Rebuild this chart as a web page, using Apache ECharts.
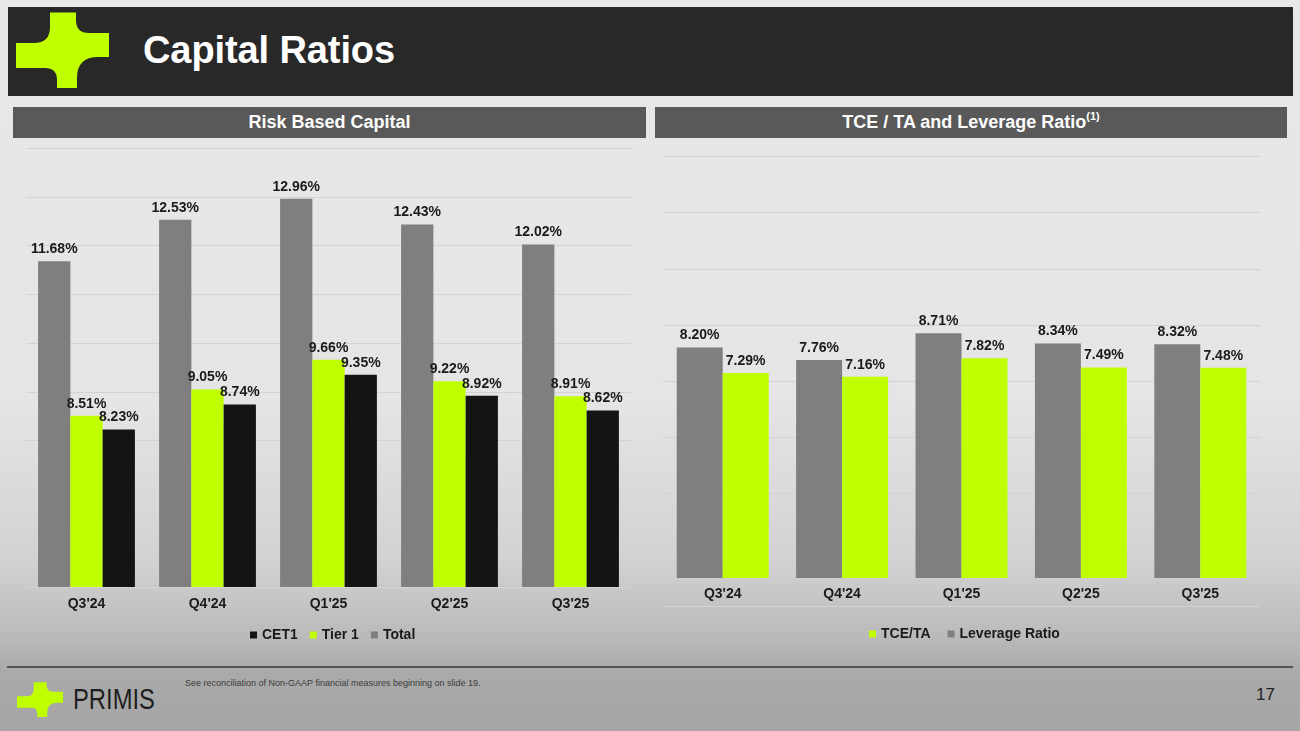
<!DOCTYPE html>
<html>
<head>
<meta charset="utf-8">
<script src="https://cdn.jsdelivr.net/npm/echarts@6/dist/echarts.min.js"></script>
<style>
  html, body { margin:0; padding:0; }
  body { width:1300px; height:731px; position:relative; overflow:hidden;
    font-family:"Liberation Sans", Arial, sans-serif;
    background: linear-gradient(to bottom, #e8e8e8 0px, #e5e5e5 400px, #d2d2d2 560px, #b9b9b9 640px, #aaaaaa 670px, #a5a5a5 731px); }
  .abs { position:absolute; }
  #header { left:8px; top:7px; width:1285px; height:89px; background:#282828; }
  #title { left:143px; top:30px; font-size:38px; font-weight:bold; color:#fff; line-height:40px; white-space:nowrap; letter-spacing:-0.1px; }
  .panel { top:107px; height:31px; background:#595959; color:#fff; font-weight:bold; font-size:18px; line-height:31px; text-align:center; white-space:nowrap; }
  .panel sup { font-size:11px; vertical-align:top; position:relative; top:-6px; }
  #footline { left:7px; top:666px; width:1286px; height:2px; background:#555; }
  #primis { left:73px; top:684px; font-size:29px; color:#1e1e1e; line-height:30px; transform:scaleX(0.82); transform-origin:left top; white-space:nowrap; }
  #note { left:185px; top:677px; font-size:9px; color:#3a3a3a; line-height:12px; white-space:nowrap; }
  #page { left:1256px; top:685px; font-size:17px; color:#222; line-height:20px; }
  #chart { left:0; top:0; width:1300px; height:731px; }
</style>
</head>
<body>
<div id="header" class="abs"></div>
<svg class="abs" style="left:16px;top:12px" width="93" height="76" viewBox="16 12 93 76">
  <path fill="#bfff00" d="M50,12.5 L76,12.5 L76,20 Q76,33 89,33 L109,33 L109,57 L98,57 Q77,57 77,78 L77,88 L57,88 L57,80 Q57,68 45,68 L16,68 L16,43 L34,43 Q50,43 50,27 Z"/>
</svg>
<div id="title" class="abs">Capital Ratios</div>
<div class="abs panel" style="left:13px;width:633px;">Risk Based Capital</div>
<div class="abs panel" style="left:655px;width:632px;">TCE / TA and Leverage Ratio<sup>(1)</sup></div>
<div id="footline" class="abs"></div>
<svg class="abs" style="left:17px;top:682px" width="46" height="35" viewBox="16 12 93 76" preserveAspectRatio="none">
  <path fill="#bfff00" d="M50,12.5 L76,12.5 L76,20 Q76,33 89,33 L109,33 L109,57 L98,57 Q77,57 77,78 L77,88 L57,88 L57,80 Q57,68 45,68 L16,68 L16,43 L34,43 Q50,43 50,27 Z"/>
</svg>
<div id="primis" class="abs">PRIMIS</div>
<div id="note" class="abs">See reconciliation of Non-GAAP financial measures beginning on slide 19.</div>
<div id="page" class="abs">17</div>
<div id="chart" class="abs"></div>
<script>
// ---- data ----
const quarters = ["Q3'24", "Q4'24", "Q1'25", "Q2'25", "Q3'25"];
const totalCapital = [11.68, 12.53, 12.96, 12.43, 12.02];
const tier1 = [8.51, 9.05, 9.66, 9.22, 8.91];
const cet1 = [8.23, 8.74, 9.35, 8.92, 8.62];
const leverageRatio = [8.20, 7.76, 8.71, 8.34, 8.32];
const tceTa = [7.29, 7.16, 7.82, 7.49, 7.48];
const leftLegend = ['CET1', 'Tier 1', 'Total'];
const rightLegend = ['TCE/TA', 'Leverage Ratio'];

const GRAY = '#7f7f7f', GREEN = '#bfff00', BLACK = '#141414';
const FONT = '"Liberation Sans", Arial, sans-serif';
const lbl = {
  show: true, position: 'top', distance: 5,
  fontFamily: FONT, fontWeight: 'bold', fontSize: 14, color: '#1a1a1a',
  formatter: p => p.value.toFixed(2) + '%'
};
const axisLbl = { fontFamily: FONT, fontWeight: 'bold', fontSize: 14, color: '#1a1a1a' };
const gridLine = { show: true, lineStyle: { color: '#d3d3d3', width: 1 } };

const chart = echarts.init(document.getElementById('chart'), null, { renderer: 'canvas' });
chart.setOption({
  backgroundColor: 'transparent',
  animation: false,
  grid: [
    { left: 26, right: 669, top: 148, bottom: 144 },
    { left: 663, right: 40, top: 156.5, bottom: 125 }
  ],
  xAxis: [
    { type: 'category', gridIndex: 0, data: quarters, position: 'bottom',
      axisLine: { show: false, onZero: false }, axisTick: { show: false },
      axisLabel: Object.assign({ margin: 10 }, axisLbl) },
    { type: 'category', gridIndex: 1, data: quarters, position: 'bottom', offset: -28,
      axisLine: { show: false, onZero: false }, axisTick: { show: false },
      axisLabel: Object.assign({ margin: 9 }, axisLbl) }
  ],
  yAxis: [
    { type: 'value', gridIndex: 0, min: 5, max: 14, interval: 1,
      axisLabel: { show: false }, axisLine: { show: false }, axisTick: { show: false },
      splitLine: gridLine },
    { type: 'value', gridIndex: 1, min: -1, max: 15,
      axisLabel: { show: false }, axisLine: { show: false }, axisTick: { show: false },
      splitLine: { show: false } },
    { type: 'value', gridIndex: 1, min: 0, max: 16, interval: 2,
      axisLabel: { show: false }, axisLine: { show: false }, axisTick: { show: false },
      splitLine: gridLine }
  ],
  legend: [
    { data: leftLegend, left: 245, top: 623, icon: 'rect', itemWidth: 7, itemHeight: 7, itemGap: 12,
      textStyle: { fontFamily: FONT, fontWeight: 'bold', fontSize: 14, color: '#1a1a1a' } },
    { data: rightLegend, left: 864, top: 622, icon: 'rect', itemWidth: 7, itemHeight: 7, itemGap: 17,
      textStyle: { fontFamily: FONT, fontWeight: 'bold', fontSize: 14, color: '#1a1a1a' } }
  ],
  series: [
    { name: 'Total', type: 'bar', xAxisIndex: 0, yAxisIndex: 0, data: totalCapital,
      itemStyle: { color: GRAY }, barGap: '0%', barCategoryGap: '20%', label: lbl },
    { name: 'Tier 1', type: 'bar', xAxisIndex: 0, yAxisIndex: 0, data: tier1,
      itemStyle: { color: GREEN }, barGap: '0%', barCategoryGap: '20%', label: lbl },
    { name: 'CET1', type: 'bar', xAxisIndex: 0, yAxisIndex: 0, data: cet1,
      itemStyle: { color: BLACK }, barGap: '0%', barCategoryGap: '20%', label: lbl },
    { name: 'Leverage Ratio', type: 'bar', xAxisIndex: 1, yAxisIndex: 1, data: leverageRatio,
      itemStyle: { color: GRAY }, barGap: '0%', barCategoryGap: '23%', label: lbl },
    { name: 'TCE/TA', type: 'bar', xAxisIndex: 1, yAxisIndex: 1, data: tceTa,
      itemStyle: { color: GREEN }, barGap: '0%', barCategoryGap: '23%', label: lbl }
  ]
});
</script>
</body>
</html>
